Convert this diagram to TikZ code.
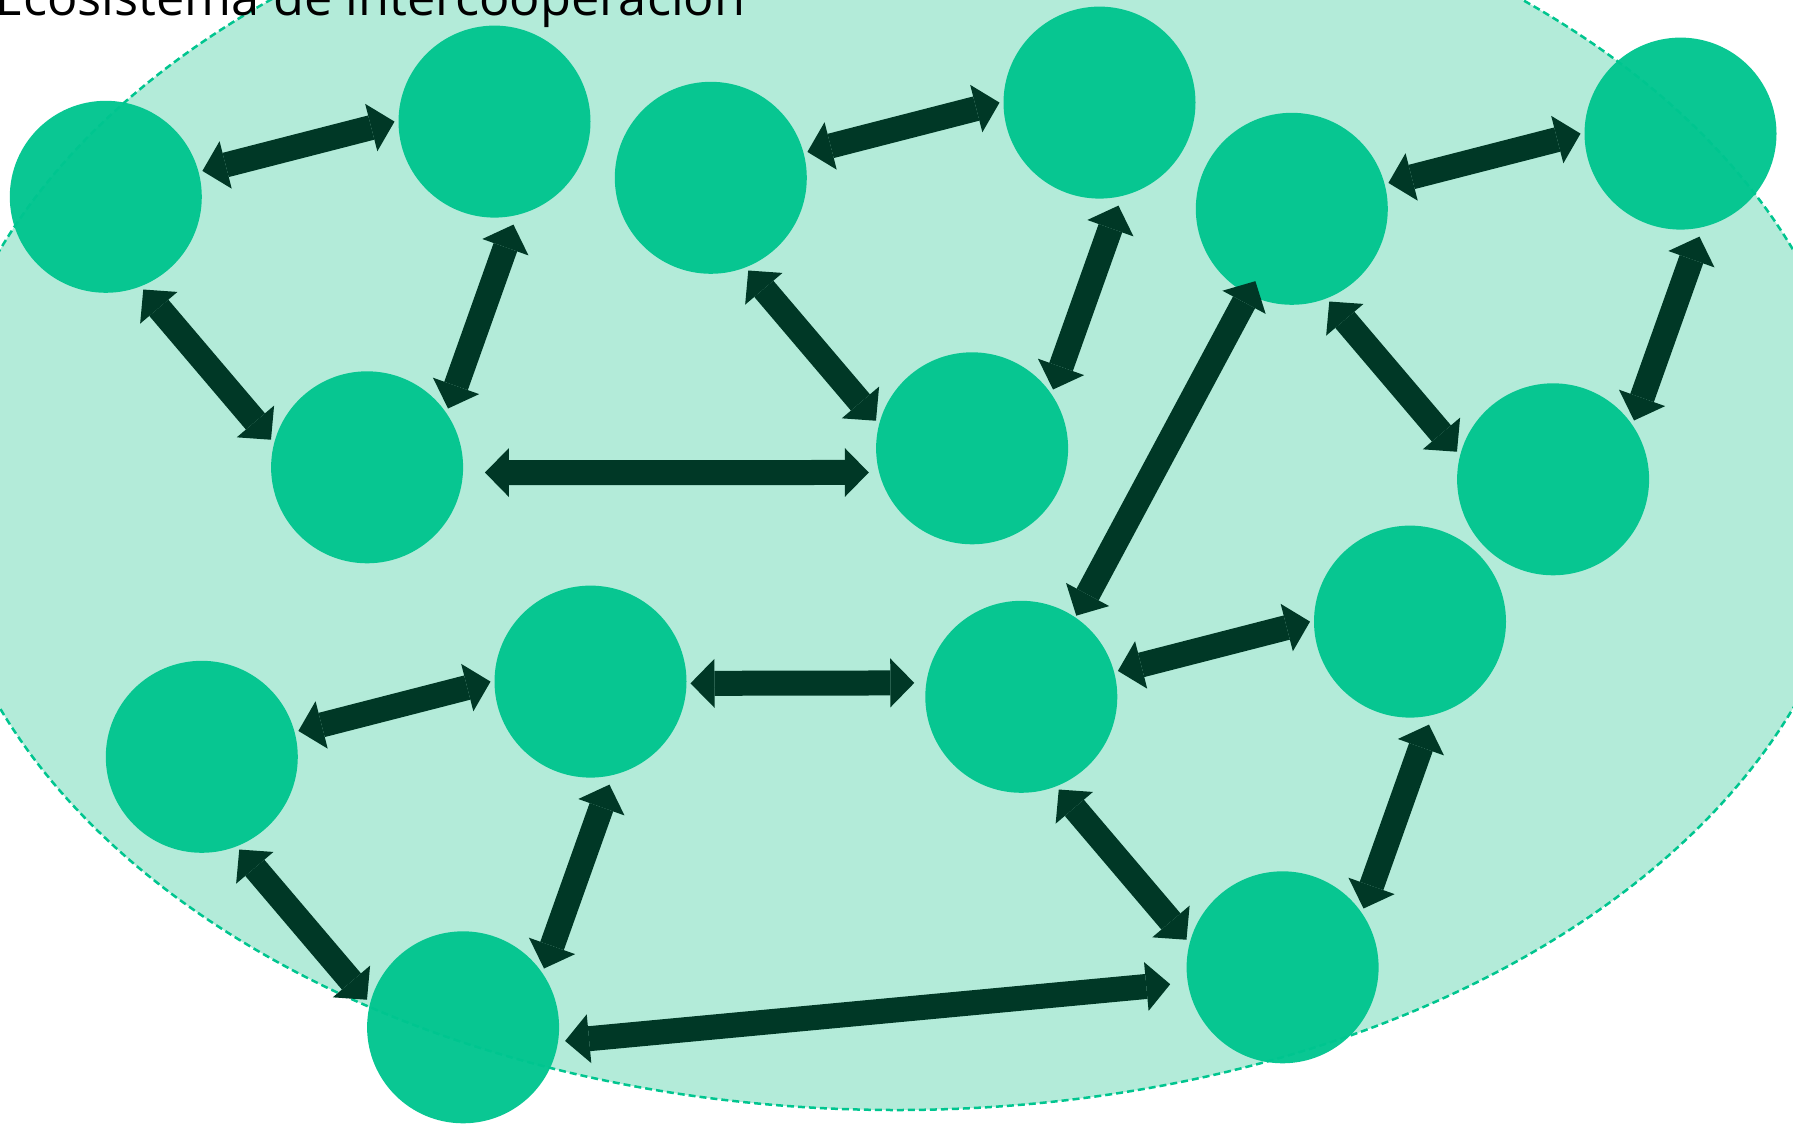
\documentclass[tikz,border=0pt]{standalone}
\usepackage{fontspec}
\setmainfont{Open Sans}
\usetikzlibrary{arrows.meta}
\definecolor{eco}{HTML}{00C58F}
\definecolor{ecobg}{HTML}{B3EBD9}
\definecolor{link}{HTML}{003826}
\tikzset{ v/.style = { circle
                       , fill         = eco
                       , fill opacity = 0.96
                       , inner sep    = 0pt
                       , outer sep    = 4pt
                       , minimum size = 192pt
                       },
            e/.style = { draw       = link
                       , line width = 25pt
                       , >          = {Triangle[length=24pt, width=49pt, line width=0pt]}
                       , <->
                       },
            zone/.style = { fill         = ecobg
                          , draw         = eco
                          , line width   = 2.5pt
                          , dash pattern = on 7pt off 4pt
                          }
          }

\begin{document}
\begin{tikzpicture}
    [x=1pt, y=-1pt]
    \useasboundingbox (0,0) rectangle (1793,1124);
    \clip (0,0) rectangle (1793,1124);
    \draw[zone] (896.5,479) ellipse [x radius=962pt, y radius=631pt];
    % five groups of three
    \foreach \n/\dx/\dy in {1/0/0, 2/605/-19, 3/1186/12, 4/96/560, 5/915.5/500} {
        \begin{scope}[shift={(\dx,\dy)}]
            \node[v] (a\n) at (105.8,196.8) {};
            \node[v] (b\n) at (494.5,121.6) {};
            \node[v] (c\n) at (367.1,467.3) {};
        \end{scope}
        \draw[e] (a\n.15.2) -- (b\n.180.9);
        \draw[e] (a\n.-68.8) -- (c\n.164.7);
        \draw[e, shorten <=5.5pt] (b\n.-78.5) -- (c\n.36.3);
    }
    % links between the groups
    \draw[e, shorten <=18pt, shorten >=6.3pt] (c1.-3.5) -- (c2.194.5);
    \draw[e, shorten >=8pt] (b4.-1.8) -- (a5.172.6);
    \draw[e, shorten <=-19pt, shorten >=-2pt] (a3.243.7) -- (a5.56.7);
    \draw[e, shorten <=3pt, shorten >=13.7pt] (c4.-8.7) -- (c5.189.8);
    \node[anchor=base west, inner sep=0pt, font=\fontsize{50.5}{60}\selectfont]
        (title) at (-5,16) {Ecosistema de intercooperación};
\end{tikzpicture}
\end{document}
